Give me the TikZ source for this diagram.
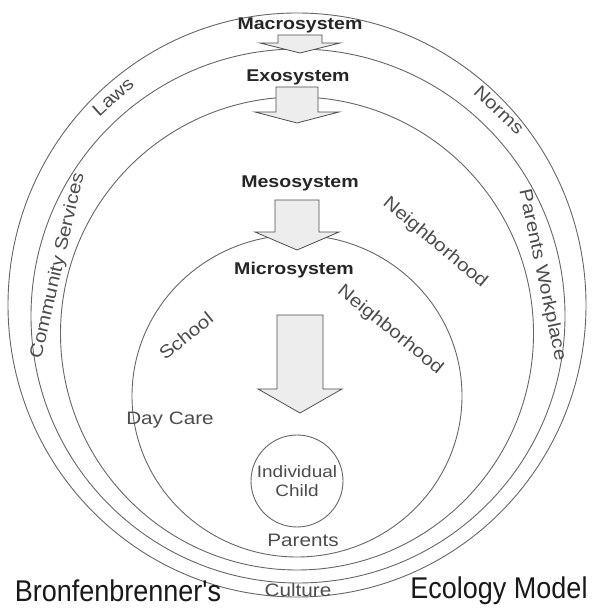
\documentclass[tikz,border=0pt]{standalone}
\usepackage{fontspec}
\setmainfont{Liberation Sans}
\newfontfamily\widefont[FakeStretch=1.15]{Liberation Sans}
\newfontfamily\narrowfont[FakeStretch=0.9]{Liberation Sans}
\usetikzlibrary{calc}

\begin{document}
\begin{tikzpicture}[x=1pt, y=1pt,
  ring/.style={draw=black!60, line width=0.9pt},
  sysname/.style={font=\widefont\bfseries\fontsize{17}{17}\selectfont, text=black!85},
  place/.style={font=\widefont\fontsize{18}{18}\selectfont, text=black!70},
  bigtitle/.style={font=\narrowfont\fontsize{30}{30}\selectfont, text=black!90},
  blockarrow/.style={draw=black!70, fill=black!7, line width=0.8pt, line join=miter}]
\useasboundingbox (0,0) rectangle (595,615);

% the nested systems
\draw[ring] (297,310) ellipse [x radius=289, y radius=292];
\draw[ring] (298,299) circle [radius=267];
\draw[ring] (297,281.5) circle [radius=236.5];
\draw[ring] (297,219) ellipse [x radius=165, y radius=161];

% block arrows: centre / top / neck / tip / shaft / head
\foreach \cx/\ytop/\yneck/\ytip/\sw/\hw in
  {300/580/572/562/22/40, 297/528/503/492/21/42,
   297/415/383/365/22/42, 300/300/226/202/23/42}
  \draw[blockarrow]
    (\cx-\sw,\ytop) -- (\cx+\sw,\ytop) -- (\cx+\sw,\yneck)
    -- (\cx+\hw,\yneck) -- (\cx,\ytip) -- (\cx-\hw,\yneck)
    -- (\cx-\sw,\yneck) -- cycle;

\node[circle, draw=black!60, line width=0.9pt, minimum size=92,
  inner sep=0pt, align=center, place, font=\widefont\fontsize{16.5}{19}\selectfont]
  (child) at (297,134) {Individual\\Child};

\node[sysname] (macro) at (300,590) {Macrosystem};
\node[sysname] (exo)   at (298,538) {Exosystem};
\node[sysname] (meso)  at (300,432) {Mesosystem};
\node[sysname] (micro) at (294,345) {Microsystem};

\node[place, rotate=42]  (laws)   at (113,518) {Laws};
\node[place, rotate=-43] (norms)  at (499,505) {Norms};
\node[place] (culture)            at (298,25)  {Culture};
\node[place, rotate=77]  (comm)   at (58,349)  {Community Services};
\node[place, rotate=-78] (work)   at (542,340) {Parents Workplace};
\node[place, rotate=-40] (nbmeso) at (435,372) {Neighborhood};
\node[place, rotate=-39] (nbmicro) at (390,285) {Neighborhood};
\node[place, rotate=39]  (school) at (186,279) {School};
\node[place] (daycare)            at (170,195) {Day Care};
\node[place] (parents)            at (303,75)  {Parents};

\node[bigtitle] (bron) at (118,24) {Bronfenbrenner's};
\node[bigtitle] (eco)  at (499,24) {Ecology Model};
\end{tikzpicture}
\end{document}
